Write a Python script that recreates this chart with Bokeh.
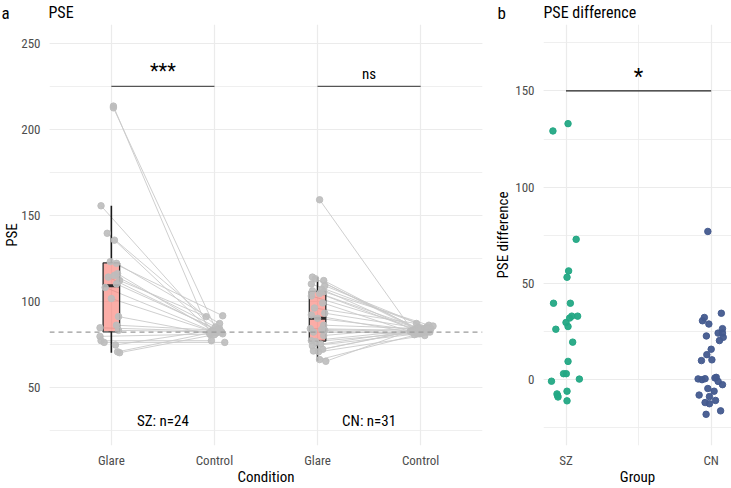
import numpy as np
from bokeh.plotting import figure
from bokeh.layouts import row, column
from bokeh.models import (Span, Label, FixedTicker, SingleIntervalTicker, Range1d)
from bokeh.core.properties import value
from bokeh.embed import file_html
from bokeh.resources import INLINE

FONT = "Roboto Condensed"

# ---------------- data: panel a (PSE) ----------------
panel_letters = ["a", "b"]
panel_titles = ["PSE", "PSE difference"]
conditions = ["Glare", "Control", "Glare", "Control"]
groups = ["SZ", "CN"]
group_n_labels = ["SZ: n=24", "CN: n=31"]
reference_pse = 82

sz_glare = [213.5, 212.5, 155.5, 139.5, 135.5, 123, 122, 116, 115, 114, 112, 110,
            108, 101.5, 91, 86, 84.5, 83, 79.5, 77, 74.5, 76, 70.5, 70]
sz_glare_dx = [0.02, 0.02, -0.10, -0.04, 0.03, -0.01, 0.05, 0.06, 0.03, -0.03, 0.08, 0.05,
               -0.06, 0.0, 0.07, 0.05, -0.11, 0.07, -0.11, -0.10, 0.04, -0.07, 0.06, 0.08]
sz_control = [80.5, 83, 82, 84, 82.5, 91.5, 87, 83, 85, 82, 91, 83.5,
              82, 81.5, 81, 83, 82.5, 82, 81, 77, 83.5, 76, 81.5, 80.5]
sz_control_dx = [-0.04, 0.02, 0.0, 0.05, -0.03, 0.08, 0.05, -0.02, 0.01, 0.06, -0.08, 0.03,
                 0.0, 0.02, -0.04, 0.05, -0.01, 0.07, 0.08, -0.03, 0.03, 0.10, -0.05, 0.0]

cn_glare = [159, 114, 113, 112, 110, 109, 107, 106, 105.5, 104.5, 103, 99, 96, 93, 92, 90,
            86, 84, 83.5, 83, 82, 80, 77, 76.5, 75, 74, 72, 71, 70.5, 66, 65]
cn_glare_dx = [0.02, -0.05, -0.02, 0.06, -0.06, 0.07, 0.04, -0.05, 0.06, 0.02, -0.06, 0.05,
               -0.03, 0.07, -0.06, 0.0, 0.06, -0.07, 0.04, 0.07, -0.04, 0.06, -0.06, -0.02,
               0.03, -0.05, 0.05, -0.04, 0.01, 0.02, 0.08]
cn_control = [83, 84, 82.5, 83.5, 85, 84, 83, 82, 86, 84.5, 83, 82, 87, 83.5, 81, 82.5,
              84, 83, 82, 80.5, 81.5, 85.5, 83, 82, 84, 81, 83.5, 82.5, 80, 82, 84.5]
cn_control_dx = [-0.08, -0.05, 0.03, -0.02, 0.06, 0.10, -0.06, 0.0, 0.08, -0.03, 0.04, -0.09,
                 -0.04, 0.07, -0.01, 0.05, 0.02, -0.05, 0.09, -0.06, 0.01, 0.12, -0.07, 0.03,
                 0.07, -0.03, 0.0, -0.10, 0.04, 0.06, -0.02]

sig_a_labels = ["***", "ns"]
sig_a_level = 225

# ---------------- data: panel b (PSE difference) ----------------
sz_diff = [129.2, 133.0, 72.9, 56.5, 53.2, 39.7, 39.7, 33.0, 33.0, 32.0, 29.7, 27.6,
           26.2, 19.5, 9.5, 3.1, 3.1, -0.8, 0.3, -6.0, -7.4, -8.2, -9.0, -11.0]
sz_diff_dx = [-0.09, 0.014, 0.07, 0.018, 0.007, -0.086, 0.03, 0.08, 0.04, 0.025, 0.0, 0.014,
              -0.07, 0.046, 0.014, -0.017, 0.002, -0.10, 0.092, 0.007, -0.062, -0.058, -0.055, 0.007]
cn_diff = [77.0, 34.5, 32.3, 30.6, 28.9, 26.5, 24.2, 24.2, 22.7, 22.0, 20.3, 15.8, 13.0,
           9.9, 10.3, 0.4, 0.0, 0.5, 0.9, -0.9, -2.6, -4.6, -6.0, -8.0, -8.8, -10.8, -11.9,
           -12.5, -16.2, -18.0, 1.2]
cn_diff_dx = [-0.023, 0.07, -0.047, -0.06, -0.016, 0.078, 0.048, 0.078, -0.033, 0.083, 0.057,
              0.0, -0.03, -0.067, 0.005, -0.09, -0.063, -0.042, 0.026, 0.048, 0.078, -0.023,
              0.02, -0.083, -0.012, 0.03, -0.042, -0.012, 0.065, -0.035, 0.035]
sig_b_label = "*"
sig_b_level = 150

# ---------------- styling helpers ----------------
GRID = "#EBEBEB"
TICK_COL = "#4D4D4D"
PT_GREY = "#BDBDBD"
LINE_GREY = "#C9C9C9"
SZ_COL = "#23A884"
CN_COL = "#435A8E"


def add_text(p, x, y, txt, size, align="center", baseline="middle"):
    p.add_layout(Label(x=x, y=y, text=txt, text_font=FONT, text_font_size=size,
                       text_color="black", text_align=align, text_baseline=baseline))


def style(p, xlabel, ylabel, y_label_standoff):
    p.outline_line_color = None
    p.background_fill_color = "white"
    p.border_fill_color = "white"
    for ax in (p.xaxis[0], p.yaxis[0]):
        ax.axis_line_color = None
        ax.major_tick_line_color = None
        ax.minor_tick_line_color = None
        ax.major_tick_out = 0
        ax.major_tick_in = 0
        ax.minor_tick_out = 0
        ax.minor_tick_in = 0
        ax.major_label_text_font = FONT
        ax.major_label_text_font_size = "13px"
        ax.major_label_text_color = TICK_COL
        ax.axis_label_text_font = FONT
        ax.axis_label_text_font_size = "15px"
        ax.axis_label_text_font_style = "normal"
        ax.axis_label_text_color = "black"
    p.xaxis[0].axis_label = xlabel
    p.yaxis[0].axis_label = ylabel
    p.xaxis[0].major_label_standoff = 7
    p.xaxis[0].axis_label_standoff = -3
    p.yaxis[0].major_label_standoff = 9
    p.yaxis[0].axis_label_standoff = y_label_standoff
    p.xgrid.grid_line_color = GRID
    p.xgrid.grid_line_width = 1.2
    p.ygrid.grid_line_color = GRID
    p.ygrid.grid_line_width = 1.2
    p.ygrid.minor_grid_line_color = GRID
    p.ygrid.minor_grid_line_width = 0.8
    p.xgrid.minor_grid_line_color = GRID
    p.xgrid.minor_grid_line_width = 0.8


# ---------------- header strip with panel letters and titles ----------------
hdr = figure(width=731, height=24, output_backend="svg", toolbar_location=None,
             x_range=Range1d(0, 731), y_range=Range1d(0, 24),
             x_axis_type=None, y_axis_type=None,
             min_border_left=0, min_border_right=0, min_border_top=0, min_border_bottom=0)
hdr.outline_line_color = None
hdr.grid.visible = False
hdr.text(x=[1, 497], y=[12, 12], text=panel_letters, text_font=value(FONT),
         text_font_size="17px", text_color="black", text_baseline="middle")
hdr.text(x=[48, 543], y=[12, 12], text=panel_titles, text_font=value(FONT),
         text_font_size="16px", text_color="black", text_baseline="middle")

# ---------------- panel a ----------------
pa = figure(width=490, height=464, output_backend="svg", toolbar_location=None,
            x_range=Range1d(0.4, 4.6), y_range=Range1d(16, 261),
            min_border_left=48, min_border_right=8, min_border_top=0, min_border_bottom=40)
style(pa, "Condition", "PSE", -3)
pa.xaxis[0].ticker = FixedTicker(ticks=[1, 2, 3, 4])
pa.xaxis[0].major_label_overrides = {i + 1: c for i, c in enumerate(conditions)}
pa.yaxis[0].ticker = SingleIntervalTicker(interval=50, num_minor_ticks=2)

pa.add_layout(Span(location=reference_pse, dimension="width", line_color="#9A9A9A",
                   line_dash="5 4", line_width=1.1))

group_data = [(sz_glare, sz_glare_dx, sz_control, sz_control_dx),
              (cn_glare, cn_glare_dx, cn_control, cn_control_dx)]

for gi, (g, gdx, c, cdx) in enumerate(group_data):
    xg = 1 + 2 * gi
    xc = xg + 1
    g = np.array(g, float)
    c = np.array(c, float)
    gx = xg + np.array(gdx)
    cx = xc + np.array(cdx)
    q1, med, q3 = np.percentile(g, [25, 50, 75])
    iqr = q3 - q1
    hi = g[g <= q3 + 1.5 * iqr].max()
    lo = g[g >= q1 - 1.5 * iqr].min()
    pa.segment(x0=gx, y0=g, x1=cx, y1=c, line_color=LINE_GREY, line_width=0.9)
    pa.vbar(x=[xg], bottom=[q1], top=[q3], width=0.16, fill_color="#F8766D", fill_alpha=0.6,
            line_color="#2B2B2B", line_width=1.3)
    pa.segment(x0=[xg, xg], y0=[q3, q1], x1=[xg, xg], y1=[hi, lo], line_color="#1A1A1A",
               line_width=1.6)
    pa.segment(x0=[xg - 0.08], y0=[med], x1=[xg + 0.08], y1=[med], line_color="#2B2B2B",
               line_width=3)
    pa.scatter(x=gx, y=g, size=6.5, fill_color=PT_GREY, line_color=PT_GREY, alpha=0.9)
    pa.scatter(x=cx, y=c, size=6.5, fill_color=PT_GREY, line_color=PT_GREY, alpha=0.9)
    pa.segment(x0=[xg], y0=[sig_a_level], x1=[xc], y1=[sig_a_level], line_color="#555555",
               line_width=1.1)
    add_text(pa, xg + 0.5, sig_a_level + 2, sig_a_labels[gi],
             "20px" if sig_a_labels[gi] == "***" else "15px", baseline="bottom")
    add_text(pa, xg + 0.5, 30, group_n_labels[gi], "15px")

# ---------------- panel b ----------------
pb = figure(width=241, height=464, output_backend="svg", toolbar_location=None,
            x_range=Range1d(0.845, 2.14), y_range=Range1d(-34.2, 184.5),
            min_border_left=53, min_border_right=0, min_border_top=0, min_border_bottom=40)
style(pb, "Group", "PSE difference", 0)
pb.xaxis[0].ticker = FixedTicker(ticks=[1, 2], minor_ticks=[1.5])
pb.xaxis[0].major_label_overrides = {i + 1: g for i, g in enumerate(groups)}
pb.yaxis[0].ticker = SingleIntervalTicker(interval=50, num_minor_ticks=2)

pb.segment(x0=[1], y0=[sig_b_level], x1=[2], y1=[sig_b_level], line_color="#222222",
           line_width=1.2)
add_text(pb, 1.5, sig_b_level + 1, sig_b_label, "22px", baseline="bottom")

pb.scatter(x=1 + np.array(sz_diff_dx), y=sz_diff, size=6.5, fill_color=SZ_COL,
           line_color=SZ_COL, alpha=0.95)
pb.scatter(x=2 + np.array(cn_diff_dx), y=cn_diff, size=6.5, fill_color=CN_COL,
           line_color=CN_COL, alpha=0.95)

layout = column(hdr, row(pa, pb))
open("out.html", "w").write(file_html(layout, INLINE))
